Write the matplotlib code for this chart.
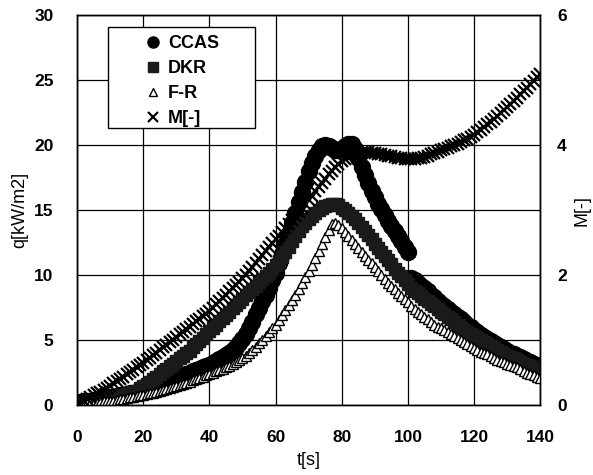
import numpy as np
import matplotlib.pyplot as plt
from matplotlib.patches import Rectangle

plt.rcParams['font.family'] = ['Liberation Sans', 'DejaVu Sans']

# one sample per second
t = np.arange(0, 141)

ccas = [0.2, 0.25, 0.3, 0.32, 0.35, 0.38, 0.4, 0.45, 0.5, 0.55,
        0.6, 0.65, 0.7, 0.75, 0.8, 0.85, 0.9, 0.95, 1.0, 1.05,
        1.1, 1.2, 1.3, 1.4, 1.5, 1.6, 1.7, 1.8, 1.9, 2.0,
        2.1, 2.2, 2.3, 2.4, 2.5, 2.6, 2.7, 2.8, 2.9, 3.0,
        3.1, 3.25, 3.4, 3.55, 3.7, 3.85, 4.0, 4.25, 4.5, 4.8,
        5.1, 5.5, 5.9, 6.4, 7.0, 7.5, 8.0, 8.5, 9.0, 9.6,
        10.2, 10.9, 11.6, 12.4, 13.2, 14.0, 14.8, 15.6, 16.4, 17.2,
        18.0, 18.6, 19.2, 19.6, 19.9, 20.0, 19.9, 19.8, 19.6, 19.6,
        19.7, 19.9, 20.1, 20.1, 19.7, 19.0, 18.3, 17.7, 17.1, 16.5,
        16.0, 15.5, 15.1, 14.6, 14.2, 13.8, 13.4, 13.0, 12.6, 12.2,
        11.8, 9.8, 9.6, 9.4, 9.2, 9.0, 8.8, 8.5, 8.3, 8.0,
        7.8, 7.6, 7.4, 7.2, 7.0, 6.8, 6.6, 6.4, 6.2, 6.0,
        5.8, 5.6, 5.4, 5.25, 5.1, 4.95, 4.8, 4.65, 4.5, 4.35,
        4.2, 4.05, 3.9, 3.8, 3.7, 3.55, 3.4, 3.3, 3.2, 3.05,
        2.9]

dkr = [0.1, 0.15, 0.2, 0.25, 0.3, 0.35, 0.4, 0.45, 0.5, 0.55,
       0.6, 0.65, 0.7, 0.75, 0.8, 0.87, 0.95, 1.03, 1.12, 1.3,
       1.5, 1.65, 1.8, 2.0, 2.2, 2.4, 2.6, 2.8, 3.0, 3.2,
       3.4, 3.6, 3.8, 4.0, 4.2, 4.45, 4.7, 4.95, 5.2, 5.45,
       5.7, 5.95, 6.2, 6.45, 6.7, 6.95, 7.2, 7.45, 7.7, 7.95,
       8.2, 8.45, 8.7, 8.95, 9.2, 9.45, 9.7, 9.95, 10.2, 10.5,
       10.8, 11.1, 11.4, 11.8, 12.2, 12.6, 13.0, 13.4, 13.8, 14.05,
       14.3, 14.55, 14.8, 15.0, 15.2, 15.3, 15.4, 15.45, 15.5, 15.4,
       15.2, 15.0, 14.8, 14.55, 14.3, 14.0, 13.7, 13.4, 13.1, 12.75,
       12.4, 12.1, 11.8, 11.5, 11.2, 10.85, 10.5, 10.2, 9.9, 9.6,
       9.3, 9.05, 8.8, 8.6, 8.4, 8.2, 8.0, 7.8, 7.6, 7.4,
       7.2, 7.0, 6.8, 6.6, 6.4, 6.2, 6.0, 5.8, 5.6, 5.45,
       5.3, 5.15, 5.0, 4.85, 4.7, 4.55, 4.4, 4.25, 4.1, 3.95,
       3.8, 3.7, 3.6, 3.45, 3.3, 3.2, 3.1, 3.0, 2.9, 2.8,
       2.7]

fr = [0.1, 0.1, 0.1, 0.15, 0.2, 0.2, 0.2, 0.25, 0.3, 0.3,
      0.3, 0.35, 0.4, 0.45, 0.5, 0.55, 0.6, 0.65, 0.7, 0.75,
      0.8, 0.85, 0.9, 0.95, 1.0, 1.1, 1.2, 1.25, 1.3, 1.4,
      1.5, 1.55, 1.6, 1.7, 1.8, 1.9, 2.0, 2.1, 2.2, 2.3,
      2.4, 2.5, 2.6, 2.7, 2.8, 2.9, 3.0, 3.15, 3.3, 3.45,
      3.6, 3.8, 4.0, 4.25, 4.5, 4.75, 5.0, 5.3, 5.6, 5.9,
      6.2, 6.55, 6.9, 7.3, 7.7, 8.1, 8.5, 8.95, 9.4, 9.85,
      10.3, 10.8, 11.3, 11.85, 12.4, 12.95, 13.5, 13.9, 14.0, 13.85,
      13.6, 13.3, 13.0, 12.7, 12.4, 12.1, 11.8, 11.5, 11.2, 10.9,
      10.6, 10.3, 10.0, 9.7, 9.4, 9.15, 8.9, 8.65, 8.4, 8.15,
      7.9, 7.65, 7.4, 7.2, 7.0, 6.8, 6.6, 6.4, 6.2, 6.05,
      5.9, 5.75, 5.6, 5.45, 5.3, 5.15, 5.0, 4.85, 4.7, 4.55,
      4.4, 4.25, 4.1, 4.0, 3.9, 3.75, 3.6, 3.5, 3.4, 3.3,
      3.2, 3.1, 3.0, 2.9, 2.8, 2.65, 2.5, 2.4, 2.3, 2.2,
      2.1]

m = [0.00, 0.03, 0.06, 0.09, 0.12, 0.15, 0.18, 0.21, 0.24, 0.27,
     0.30, 0.335, 0.37, 0.405, 0.44, 0.475, 0.51, 0.545, 0.58, 0.615,
     0.65, 0.69, 0.73, 0.77, 0.81, 0.85, 0.89, 0.93, 0.97, 1.01,
     1.05, 1.09, 1.13, 1.17, 1.21, 1.25, 1.29, 1.33, 1.37, 1.41,
     1.45, 1.50, 1.55, 1.60, 1.65, 1.70, 1.75, 1.80, 1.85, 1.90,
     1.95, 2.01, 2.07, 2.13, 2.19, 2.25, 2.31, 2.37, 2.43, 2.49,
     2.55, 2.61, 2.67, 2.73, 2.79, 2.85, 2.91, 2.97, 3.03, 3.09,
     3.15, 3.22, 3.29, 3.355, 3.42, 3.485, 3.55, 3.605, 3.66, 3.705,
     3.75, 3.785, 3.82, 3.845, 3.87, 3.88, 3.89, 3.89, 3.89, 3.885,
     3.88, 3.87, 3.86, 3.85, 3.84, 3.83, 3.82, 3.81, 3.80, 3.795,
     3.79, 3.79, 3.79, 3.80, 3.81, 3.825, 3.84, 3.86, 3.88, 3.90,
     3.92, 3.94, 3.96, 3.98, 4.00, 4.025, 4.05, 4.075, 4.10, 4.13,
     4.16, 4.20, 4.24, 4.28, 4.32, 4.36, 4.40, 4.445, 4.49, 4.535,
     4.58, 4.63, 4.68, 4.73, 4.78, 4.83, 4.88, 4.935, 4.99, 5.045,
     5.10]

fig = plt.figure(figsize=(5.93, 4.75), dpi=100)
ax = fig.add_axes([0.130, 0.147, 0.781, 0.821])
ax2 = ax.twinx()

ax.plot(t, ccas, 'o', color='black', ms=11.5, label='CCAS', zorder=3)
ax.plot(t, dkr, 's', color='#1a1a1a', ms=8.5, label='DKR', zorder=3)
ax.plot(t, fr, '^', mfc='white', mec='black', mew=1.0, ms=7.5, label='F-R', zorder=4)
ax2.plot(t, m, 'x', color='black', ms=9, mew=1.6, label='M[-]')

ax.set_xlim(0, 140)
ax.set_ylim(0, 30)
ax2.set_ylim(0, 6)
ax.set_xticks(range(0, 141, 20))
ax.set_yticks(range(0, 31, 5))
ax2.set_yticks([0, 2, 4, 6])
ax.grid(True, color='black', lw=0.9)
ax.set_axisbelow(True)

for a in (ax, ax2):
    a.tick_params(length=0, labelsize=12.5)
    for lab in a.get_xticklabels() + a.get_yticklabels():
        lab.set_fontweight('bold')
    for s in a.spines.values():
        s.set_linewidth(1.0)
ax.tick_params(axis='y', pad=17)
ax.tick_params(axis='x', pad=18)
ax2.tick_params(axis='y', pad=12)

ax.set_xlabel('t[s]', fontsize=13, labelpad=5)
ax.set_ylabel('q[kW/m2]', fontsize=13, labelpad=4)
ax2.set_ylabel('M[-]', fontsize=13, labelpad=5)

# legend box drawn separately so its size can be set freely
ax2.add_patch(Rectangle((0.067, 0.710), 0.317, 0.259, transform=ax2.transAxes,
                        facecolor='white', edgecolor='black', lw=1.0, zorder=4))
h1, l1 = ax.get_legend_handles_labels()
h2, l2 = ax2.get_legend_handles_labels()
leg = ax2.legend(h1 + h2, l1 + l2, loc='upper left', bbox_to_anchor=(0.149, 0.949),
                 frameon=False, handlelength=0.8, handletextpad=0.4,
                 borderpad=0, labelspacing=0.45, borderaxespad=0,
                 prop={'size': 13, 'weight': 'bold'})
leg.set_zorder(5)
for hnd, size in zip(leg.legend_handles, [8, 6.5, 6, 7.5]):
    hnd.set_markersize(size)

fig.savefig('out.png', dpi=100)
